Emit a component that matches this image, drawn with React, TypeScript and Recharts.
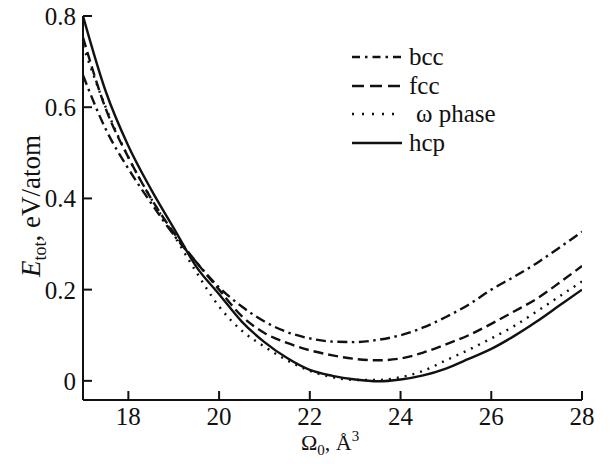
import React from 'react';
import { LineChart, Line, XAxis, YAxis, Label } from 'recharts';

const volume = [17, 17.5, 18, 18.5, 19, 19.5, 20, 20.5, 21, 21.5, 22, 22.5, 23, 23.5, 24, 24.5, 25, 25.5, 26, 26.5, 27, 27.5, 28];
const bcc = [0.67, 0.552, 0.465, 0.39, 0.32, 0.26, 0.205, 0.163, 0.13, 0.107, 0.093, 0.086, 0.085, 0.09, 0.1, 0.117, 0.14, 0.167, 0.2, 0.228, 0.258, 0.292, 0.327];
const fcc = [0.753, 0.597, 0.49, 0.4, 0.325, 0.26, 0.2, 0.142, 0.105, 0.083, 0.067, 0.056, 0.048, 0.045, 0.049, 0.062, 0.08, 0.1, 0.125, 0.152, 0.18, 0.215, 0.252];
const omegaPhase = [0.735, 0.6, 0.49, 0.4, 0.32, 0.238, 0.163, 0.11, 0.075, 0.045, 0.022, 0.008, 0.002, 0.002, 0.008, 0.022, 0.045, 0.068, 0.093, 0.12, 0.152, 0.185, 0.218];
const hcp = [0.8, 0.635, 0.515, 0.42, 0.335, 0.25, 0.19, 0.13, 0.085, 0.05, 0.024, 0.011, 0.003, -0.001, 0.003, 0.012, 0.027, 0.048, 0.07, 0.098, 0.13, 0.165, 0.2];

const xTicks = [18, 20, 22, 24, 26, 28];
const yTicks = [0, 0.2, 0.4, 0.6, 0.8];

const seriesNames = ['bcc', 'fcc', 'ω phase', 'hcp'];
const seriesKeys = ['bcc', 'fcc', 'omega', 'hcp'];
const dashes = ['10 4.5 2.5 4.5', '10 5', '2 6', undefined as string | undefined];
const legendDashes = ['8 5 2.5 5', '12 6', '2 8', undefined as string | undefined];

const data = volume.map((v, i) => ({
  v,
  bcc: bcc[i],
  fcc: fcc[i],
  omega: omegaPhase[i],
  hcp: hcp[i],
}));

const FONT = '"Liberation Serif", "Times New Roman", serif';
const INK = '#111';

const XTitle = () => (
  <text x={330} y={450} textAnchor="middle" fontFamily={FONT} fontSize={22} fill={INK}>
    Ω<tspan dy={5} fontSize={15}>0</tspan>
    <tspan dy={-5}>, Å</tspan>
    <tspan dy={-9} fontSize={15}>3</tspan>
  </text>
);

const YTitle = () => (
  <text
    x={40}
    y={206}
    transform="rotate(-90, 40, 206)"
    textAnchor="middle"
    fontFamily={FONT}
    fontSize={27}
    fill={INK}
  >
    <tspan fontStyle="italic">E</tspan>
    <tspan dy={6} fontSize={18}>tot</tspan>
    <tspan dy={-6}>, eV/atom</tspan>
  </text>
);

export default function App() {
  return (
    <div style={{ position: 'absolute', left: 0, top: 0, width: 610, height: 464, background: '#fff' }}>
      <LineChart width={610} height={464} data={data} margin={{ top: 16, right: 28, bottom: 0, left: 0 }}>
        <XAxis
          dataKey="v"
          type="number"
          domain={[17, 28]}
          ticks={xTicks}
          allowDataOverflow
          height={64}
          tickSize={-9}
          tickMargin={16}
          axisLine={{ stroke: INK, strokeWidth: 2 }}
          tickLine={{ stroke: INK, strokeWidth: 2 }}
          tick={{ fontFamily: FONT, fontSize: 25, fill: INK }}
          interval={0}
        >
          <Label content={XTitle} />
        </XAxis>
        <XAxis
          xAxisId="top"
          orientation="top"
          dataKey="v"
          type="number"
          domain={[17, 28]}
          height={0}
          tick={false}
          tickLine={false}
          axisLine={{ stroke: INK, strokeWidth: 2 }}
        />
        <YAxis
          type="number"
          domain={[-0.042, 0.8]}
          ticks={yTicks}
          allowDataOverflow
          width={83}
          tickSize={-9}
          tickMargin={16}
          axisLine={{ stroke: INK, strokeWidth: 2 }}
          tickLine={{ stroke: INK, strokeWidth: 2 }}
          tick={{ fontFamily: FONT, fontSize: 25, fill: INK }}
          interval={0}
        >
          <Label content={YTitle} />
        </YAxis>
        <YAxis
          yAxisId="right"
          orientation="right"
          type="number"
          domain={[-0.042, 0.8]}
          width={0}
          tick={false}
          tickLine={false}
          axisLine={{ stroke: INK, strokeWidth: 2 }}
        />
        {seriesKeys.map((k, i) => (
          <Line
            key={k}
            dataKey={k}
            name={seriesNames[i]}
            type="monotone"
            stroke={INK}
            strokeWidth={2.4}
            strokeDasharray={dashes[i]}
            dot={false}
            isAnimationActive={false}
          />
        ))}
      </LineChart>
      <div style={{ position: 'absolute', left: 350, top: 43, fontFamily: FONT, fontSize: 25, color: INK }}>
        {seriesNames.map((name, i) => (
          <div key={name} style={{ display: 'flex', alignItems: 'center', height: 28.5, whiteSpace: 'nowrap' }}>
            <svg width={59} height={20} style={{ display: 'block', flex: 'none' }}>
              <line x1={2} y1={10} x2={52} y2={10} stroke={INK} strokeWidth={2.4} strokeDasharray={legendDashes[i]} />
            </svg>
            <span style={{ marginLeft: name.startsWith('ω') ? 7 : 0 }}>{name}</span>
          </div>
        ))}
      </div>
    </div>
  );
}
